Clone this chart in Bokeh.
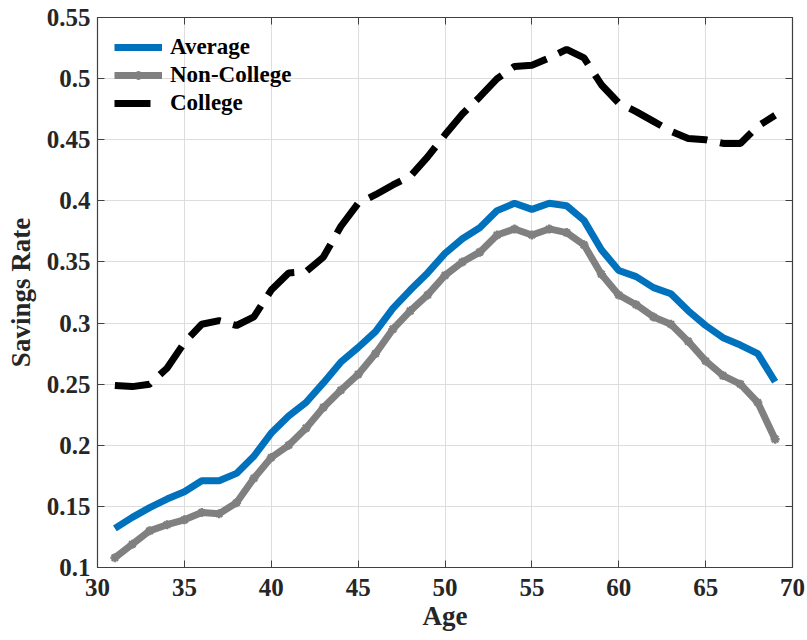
from bokeh.plotting import figure
from bokeh.models import Range1d, LinearAxis, Legend, LegendItem, FixedTicker, CustomJSTickFormatter
from bokeh.embed import file_html
from bokeh.resources import INLINE

ages = list(range(31, 70))
average = [0.132, 0.141, 0.149, 0.156, 0.162, 0.171, 0.171, 0.177, 0.191, 0.210,
           0.224, 0.235, 0.251, 0.268, 0.280, 0.293, 0.312, 0.327, 0.341, 0.357,
           0.369, 0.378, 0.392, 0.398, 0.393, 0.398, 0.396, 0.384, 0.360, 0.343,
           0.338, 0.329, 0.324, 0.310, 0.298, 0.288, 0.282, 0.275, 0.252]
non_college = [0.108, 0.119, 0.130, 0.135, 0.139, 0.145, 0.144, 0.153, 0.173, 0.190,
               0.200, 0.214, 0.231, 0.245, 0.258, 0.275, 0.295, 0.310, 0.323, 0.339,
               0.350, 0.358, 0.372, 0.377, 0.372, 0.377, 0.374, 0.364, 0.340, 0.323,
               0.315, 0.305, 0.299, 0.285, 0.269, 0.257, 0.250, 0.235, 0.205]
college = [0.249, 0.248, 0.250, 0.263, 0.284, 0.299, 0.302, 0.298, 0.305, 0.327,
           0.341, 0.342, 0.354, 0.379, 0.398, 0.405, 0.413, 0.420, 0.436, 0.454,
           0.471, 0.485, 0.500, 0.510, 0.511, 0.517, 0.524, 0.517, 0.495, 0.480,
           0.473, 0.465, 0.457, 0.451, 0.450, 0.447, 0.447, 0.461, 0.470]
x_ticks = [30, 35, 40, 45, 50, 55, 60, 65, 70]
y_ticks = [0.1, 0.15, 0.2, 0.25, 0.3, 0.35, 0.4, 0.45, 0.5, 0.55]

FONT = "'Liberation Serif', 'Times New Roman', serif"
AX = "#404040"
TXT = "#262626"

p = figure(width=807, height=640, output_backend="svg", toolbar_location=None,
           x_range=Range1d(30, 70), y_range=Range1d(0.1, 0.55),
           min_border_left=97, min_border_right=15, min_border_top=17, min_border_bottom=73)
p.outline_line_color = AX
p.outline_line_width = 1.2

r_avg = p.line(ages, average, line_color="#0072BD", line_width=7)
r_nc = p.line(ages, non_college, line_color="#808080", line_width=7)
r_ncm = p.scatter(ages, non_college, marker="asterisk", size=9, line_color="#808080", line_width=2.5)
r_col = p.line(ages, college, line_color="black", line_width=7, line_dash="36 13")

for ax in (p.xaxis[0], p.yaxis[0]):
    ax.major_tick_in = 7
    ax.major_tick_out = 0
    ax.minor_tick_in = 0
    ax.minor_tick_out = 0
    ax.axis_line_color = AX
    ax.major_tick_line_color = AX
    ax.major_label_text_font = FONT
    ax.major_label_text_font_style = "bold"
    ax.major_label_text_font_size = "25px"
    ax.major_label_text_color = TXT
    ax.axis_label_text_font = FONT
    ax.axis_label_text_font_style = "bold"
    ax.axis_label_text_font_size = "27px"
    ax.axis_label_text_color = TXT

p.xaxis.ticker = FixedTicker(ticks=x_ticks)
p.yaxis.ticker = FixedTicker(ticks=y_ticks)
p.yaxis.major_label_overrides = {0.1: "0.1", 0.15: "0.15", 0.2: "0.2", 0.25: "0.25", 0.3: "0.3",
                                 0.35: "0.35", 0.4: "0.4", 0.45: "0.45", 0.5: "0.5", 0.55: "0.55"}
p.xaxis.axis_label = "Age"
p.yaxis.axis_label = "Savings Rate"
p.xaxis.major_label_standoff = 11
p.xaxis.axis_label_standoff = 2
p.yaxis.major_label_standoff = 7
p.yaxis.axis_label_standoff = 8

for loc in ("right", "above"):
    a = LinearAxis(ticker=FixedTicker(ticks=y_ticks if loc == "right" else x_ticks),
                   formatter=CustomJSTickFormatter(code="return ''"))
    a.major_tick_in = 7
    a.major_tick_out = 0
    a.minor_tick_in = 0
    a.minor_tick_out = 0
    a.major_label_standoff = 0
    a.major_label_text_font_size = "10px"
    a.axis_line_color = AX
    a.major_tick_line_color = AX
    p.add_layout(a, loc)

p.xgrid.ticker = FixedTicker(ticks=x_ticks)
p.ygrid.ticker = FixedTicker(ticks=y_ticks)
p.grid.grid_line_color = "#d9d9d9"
p.grid.grid_line_alpha = 0.9
p.grid.grid_line_width = 1

legend = Legend(items=[
    LegendItem(label="Average", renderers=[r_avg]),
    LegendItem(label="Non-College", renderers=[r_nc, r_ncm]),
    LegendItem(label="College", renderers=[r_col]),
], location="top_left")
legend.background_fill_alpha = 0
legend.border_line_alpha = 0
legend.label_text_font = FONT
legend.label_text_font_style = "bold"
legend.label_text_font_size = "23px"
legend.label_text_color = "black"
legend.label_height = 22
legend.glyph_width = 48
legend.glyph_height = 22
legend.spacing = 2
legend.padding = 7
legend.margin = 10
legend.label_standoff = 8
p.add_layout(legend)

open("out.html", "w").write(file_html(p, INLINE))
